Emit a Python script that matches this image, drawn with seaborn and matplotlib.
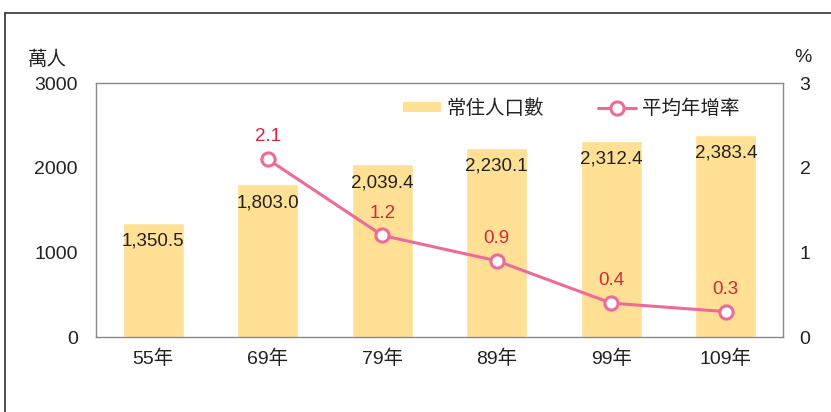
import numpy as np
import pandas as pd
import matplotlib.pyplot as plt
import seaborn as sns
from matplotlib.lines import Line2D
from matplotlib.patches import Patch

# 常住人口數 (萬人) 與平均年增率 (%)
years = ['55年', '69年', '79年', '89年', '99年', '109年']
population = [1350.5, 1803.0, 2039.4, 2230.1, 2312.4, 2383.4]
growth = [np.nan, 2.1, 1.2, 0.9, 0.4, 0.3]

bar_color = '#FFE094'
line_color = '#EE6A9A'
label_red = '#D9253A'
text_color = '#222222'

sns.set_style('white')
plt.rcParams['font.family'] = ['Liberation Sans', 'Noto Sans CJK TC', 'DejaVu Sans']

df = pd.DataFrame({'year': years, 'pop': population, 'rate': growth})

fig = plt.figure(figsize=(8.31, 4.12), dpi=100)
ax = fig.add_axes([96 / 831, 1 - 337 / 412, 687 / 831, 254 / 412])

sns.barplot(data=df, x='year', y='pop', color=bar_color, saturation=1,
            width=0.53, ax=ax)
ax.set_xlim(-0.5, len(years) - 0.5)
ax.set_ylim(0, 3000)
ax.set_yticks([0, 1000, 2000, 3000])
ax.set_xlabel('')
ax.set_ylabel('')
ax.tick_params(axis='both', length=0, labelsize=14, colors=text_color)
ax.tick_params(axis='x', pad=9)
ax.tick_params(axis='y', pad=13)
for s in ax.spines.values():
    s.set_color('#888888')
    s.set_linewidth(1.0)

for i, v in enumerate(population):
    ax.annotate(f'{v:,.1f}', (i, v), xytext=(0, -7), textcoords='offset points',
                ha='center', va='top', fontsize=13.5, color=text_color)

ax2 = ax.twinx()
x = np.arange(len(years))
ax2.plot(x, growth, color=line_color, lw=2.2, marker='o', markersize=9.5,
         markerfacecolor='white', markeredgecolor=line_color, markeredgewidth=2.2)
ax2.set_ylim(0, 3)
ax2.set_yticks([0, 1, 2, 3])
ax2.tick_params(axis='y', length=0, labelsize=14, colors=text_color, pad=12)
for s in ax2.spines.values():
    s.set_visible(False)

for i, v in enumerate(growth):
    if np.isnan(v):
        continue
    ax2.annotate(f'{v:.1f}', (i, v), xytext=(0, 10), textcoords='offset points',
                 ha='center', va='bottom', fontsize=13.5, color=label_red)

fig.text(28 / 831, 1 - 60 / 412, '萬人', fontsize=14, color=text_color,
         ha='left', va='center')
fig.text(803 / 831, 1 - 58 / 412, '%', fontsize=14, color=text_color,
         ha='center', va='center')

handles = [Patch(facecolor=bar_color, edgecolor='none'),
           Line2D([], [], color=line_color, lw=2.2, marker='o', markersize=9.5,
                  markerfacecolor='white', markeredgecolor=line_color,
                  markeredgewidth=2.2)]
leg = ax2.legend(handles, ['常住人口數', '平均年增率'], ncol=2, frameon=False,
                 loc='upper right', bbox_to_anchor=(0.937, 0.935), fontsize=14,
                 handlelength=1.95, handleheight=0.45, columnspacing=2.8,
                 handletextpad=0.3, borderpad=0, borderaxespad=0)
for t in leg.get_texts():
    t.set_color(text_color)

# outer frame
fig.add_artist(Line2D([5 / 831, 5 / 831], [0, 1 - 13 / 412], color='#333333',
                      lw=1.2, transform=fig.transFigure))
fig.add_artist(Line2D([5 / 831, 1], [1 - 13 / 412, 1 - 13 / 412], color='#333333',
                      lw=1.2, transform=fig.transFigure))

fig.savefig('out.png', dpi=100)
